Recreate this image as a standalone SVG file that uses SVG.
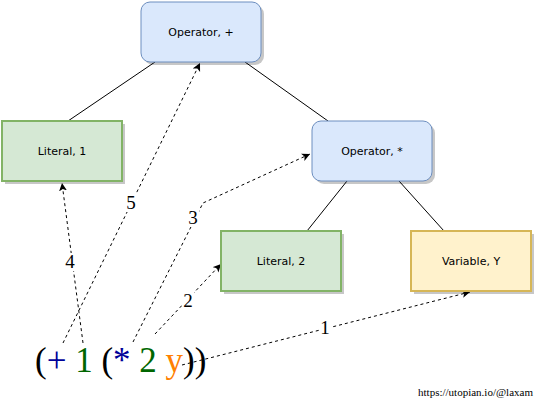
<svg xmlns="http://www.w3.org/2000/svg" width="542" height="404" viewBox="0 0 542 404">
<style>
.shadow{fill:#000;opacity:0.22}
.op{fill:#dae8fc;stroke:#6c8ebf;stroke-width:1}
.lit{fill:#d5e8d4;stroke:#82b366;stroke-width:2}
.var{fill:#fff2cc;stroke:#d6b656;stroke-width:2}
.nt{font-family:"DejaVu Sans",Verdana,sans-serif;font-size:11px;fill:#000;text-anchor:middle}
.tree{stroke:#000;stroke-width:1;fill:none}
.dash{stroke:#000;stroke-width:1;fill:none;stroke-dasharray:3 3;marker-end:url(#arr)}
.lbl{font-family:"Liberation Serif","Times New Roman",serif;font-size:19px;fill:#000;text-anchor:middle}
.lblbg{fill:#fff}
.expr{font-family:"Liberation Serif","Times New Roman",serif;font-size:35px}
</style>
<defs>
<marker id="arr" markerWidth="10" markerHeight="10" refX="8" refY="4" orient="auto" markerUnits="userSpaceOnUse">
<path d="M0,0 L8,4 L0,8 L2,4 z" fill="#000"/>
</marker>
</defs>
<rect width="542" height="404" fill="#fff"/>
<g id="connectors">
<line class="tree" x1="155" y1="62" x2="68" y2="121"/>
<line class="tree" x1="245" y1="62" x2="328" y2="121"/>
<line class="tree" x1="347" y1="181" x2="307" y2="231"/>
<line class="tree" x1="399" y1="181" x2="444" y2="231"/>
<path class="dash" d="M182,365 L470,292"/>
<path class="dash" d="M155,334 L221,264"/>
<path class="dash" d="M133,342 L203,203 L310,154"/>
<path class="dash" d="M83,343 L62,183"/>
<path class="dash" d="M63,343 L200,63"/>
<rect class="lblbg" x="319" y="318" width="12" height="18"/>
<text class="lbl" x="325" y="334">1</text>
<rect class="lblbg" x="182" y="291" width="12" height="18"/>
<text class="lbl" x="188" y="307">2</text>
<rect class="lblbg" x="187" y="209" width="12" height="18"/>
<text class="lbl" x="193" y="224">3</text>
<rect class="lblbg" x="64" y="253" width="12" height="18"/>
<text class="lbl" x="70" y="268">4</text>
<rect class="lblbg" x="125" y="194" width="12" height="18"/>
<text class="lbl" x="131" y="209">5</text>
</g>
<g id="op_plus">
<rect class="shadow" x="144" y="5" width="120" height="60" rx="9"/>
<rect class="op" x="141" y="2" width="120" height="60" rx="9"/>
<text class="nt" x="201" y="36">Operator, +</text>
</g>
<g id="literal_1">
<rect class="shadow" x="5" y="124" width="120" height="60"/>
<rect class="lit" x="2" y="121" width="120" height="60"/>
<text class="nt" x="62" y="155">Literal, 1</text>
</g>
<g id="op_mul">
<rect class="shadow" x="315" y="124" width="120" height="60" rx="9"/>
<rect class="op" x="312" y="121" width="120" height="60" rx="9"/>
<text class="nt" x="372" y="155">Operator, *</text>
</g>
<g id="literal_2">
<rect class="shadow" x="224" y="234" width="120" height="60"/>
<rect class="lit" x="221" y="231" width="120" height="60"/>
<text class="nt" x="281" y="265">Literal, 2</text>
</g>
<g id="variable_y">
<rect class="shadow" x="414" y="234" width="120" height="60"/>
<rect class="var" x="411" y="231" width="120" height="60"/>
<text class="nt" x="471" y="265">Variable, Y</text>
</g>
<g id="expression">
<text class="expr" x="35" y="372" xml:space="preserve"><tspan fill="#000">(</tspan><tspan fill="#000099">+</tspan> <tspan fill="#006600">1</tspan> <tspan fill="#000">(</tspan><tspan fill="#000099">*</tspan> <tspan fill="#006600">2</tspan> <tspan fill="#ff8000">y</tspan><tspan fill="#000">))</tspan></text>
</g>
<text x="533" y="396" font-family="Liberation Serif,Times New Roman,serif" font-size="11" text-anchor="end" fill="#000">https://utopian.io/@laxam</text>
</svg>
